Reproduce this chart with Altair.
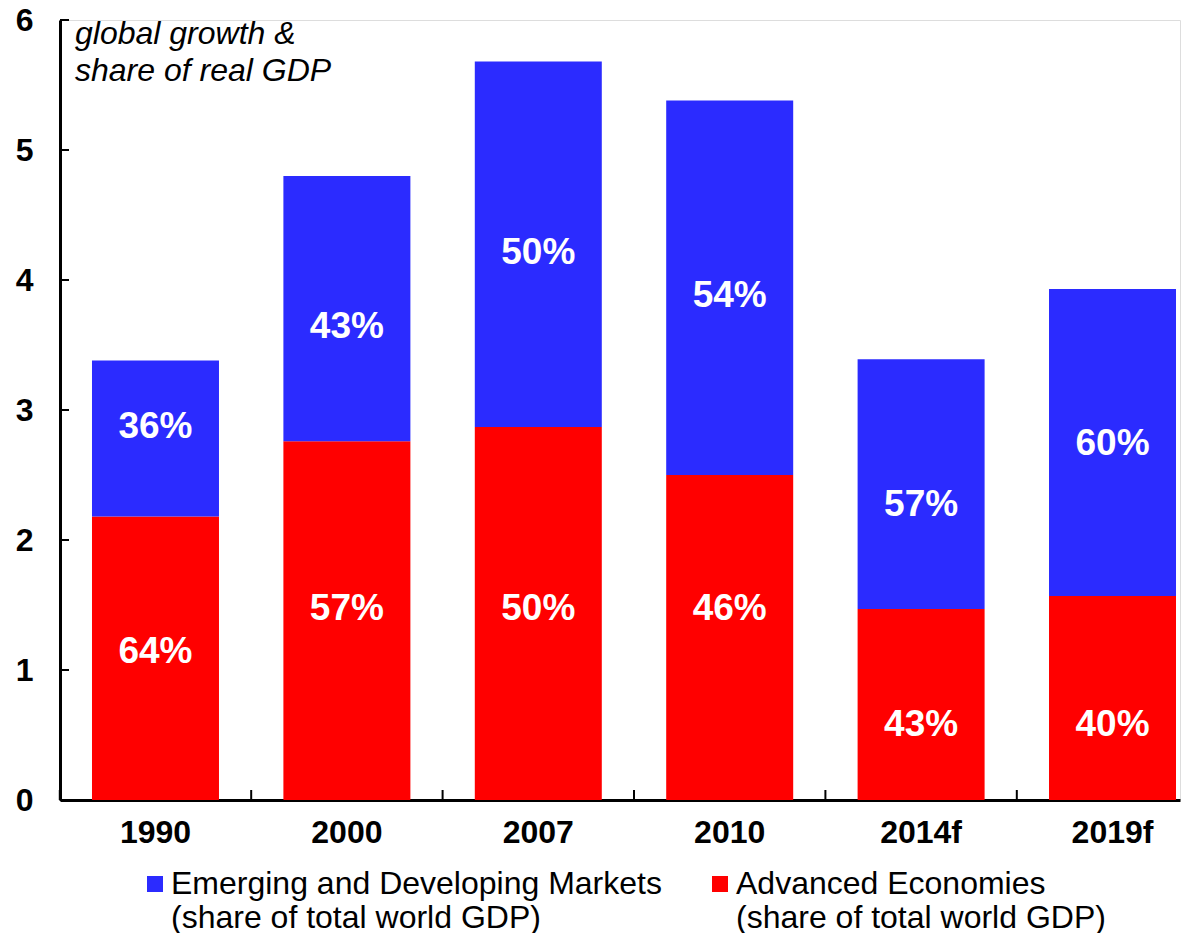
import altair as alt
import pandas as pd

# ---- data ----
years = ["1990", "2000", "2007", "2010", "2014f", "2019f"]
advanced = [2.18, 2.76, 2.87, 2.50, 1.47, 1.57]      # contribution to global growth
emerging = [1.20, 2.04, 2.81, 2.88, 1.92, 2.36]
adv_share = ["64%", "57%", "50%", "46%", "43%", "40%"]
em_share = ["36%", "43%", "50%", "54%", "57%", "60%"]
adv_label_at = [1.14, 1.47, 1.47, 1.47, 0.58, 0.58]  # where the share labels sit (data units)
em_label_at = [2.87, 3.64, 4.21, 3.88, 2.27, 2.74]
y_ticks = [0, 1, 2, 3, 4, 5, 6]
series = ["Emerging and Developing Markets|(share of total world GDP)",
          "Advanced Economies|(share of total world GDP)"]
colors = ["#2B2BFF", "#FF0000"]

rows = []
for i, yr in enumerate(years):
    rows.append(dict(year=yr, series=series[1], y0=0.0, y1=advanced[i],
                     share=adv_share[i], label_at=adv_label_at[i]))
    rows.append(dict(year=yr, series=series[0], y0=advanced[i], y1=advanced[i] + emerging[i],
                     share=em_share[i], label_at=em_label_at[i]))
df = pd.DataFrame(rows)

FONT = "Liberation Sans"
W, H = 1120, 780
n = len(years)
p_in, p_out, align = 0.3365, 0.094, 0.889
step = W / (n - p_in + 2 * p_out)
tick_off = p_in * step / 2

xscale = alt.Scale(domain=years, paddingInner=p_in, paddingOuter=p_out, align=align)
yscale = alt.Scale(domain=[0, 6], nice=False, zero=True)

bars = alt.Chart(df).mark_bar(strokeWidth=0).encode(
    x=alt.X("year:N", scale=xscale, sort=years,
            axis=alt.Axis(title=None, domain=True, domainWidth=3, domainColor="black",
                          ticks=False, grid=False, labelAngle=0, labelFont=FONT,
                          labelFontSize=32, labelFontWeight="bold", labelColor="black",
                          labelPadding=17)),
    y=alt.Y("y0:Q", scale=yscale,
            axis=alt.Axis(title=None, values=y_ticks, format="d", domain=True, domainWidth=3,
                          domainColor="black", ticks=False, grid=False, labelFont=FONT,
                          labelFontSize=32, labelFontWeight="bold", labelColor="black",
                          labelPadding=27)),
    y2="y1:Q",
    color=alt.Color("series:N", scale=alt.Scale(domain=series, range=colors),
                    legend=alt.Legend(orient="none", legendX=79, legendY=848,
                                      direction="horizontal", title=None,
                                      symbolType="square", symbolSize=256,
                                      symbolStrokeWidth=0, labelFont=FONT,
                                      labelFontSize=32, labelColor="black",
                                      labelLimit=1000, labelOffset=0, columnPadding=42,
                                      labelExpr="split(datum.label, '|')",
                                      labelBaseline="middle", padding=0)),
)

labels = alt.Chart(df).mark_text(color="white", fontWeight="bold", fontSize=37,
                                 font=FONT, baseline="middle").encode(
    x=alt.X("year:N", sort=years, title=None),
    y=alt.Y("label_at:Q", title=None),
    text="share:N",
)

ytick_rules = alt.Chart(pd.DataFrame({"v": y_ticks})).mark_rule(
    color="black", strokeWidth=2).encode(
    y=alt.Y("v:Q", title=None), x=alt.value(0), x2=alt.value(9))

xtick_rules = alt.Chart(pd.DataFrame({"year": years})).mark_rule(
    color="black", strokeWidth=2, xOffset=-tick_off).encode(
    x=alt.X("year:N", sort=years, bandPosition=0, title=None),
    y=alt.value(H - 10), y2=alt.value(H))

chart = alt.layer(bars, labels, ytick_rules, xtick_rules).properties(
    width=W, height=H,
    padding={"left": 52, "top": 12, "right": 2, "bottom": 133},
    autosize=alt.AutoSizeParams(type="none"),
    title=alt.TitleParams(text=["global growth &", "share of real GDP"], anchor="start",
                          frame="group", orient="top", font=FONT, fontSize=32,
                          fontStyle="italic", fontWeight="normal", color="black",
                          baseline="top", dx=15, dy=84, offset=0, lineHeight=37),
).configure_view(stroke=None).configure(font=FONT)

chart.save("out.html", embed_options={"renderer": "svg", "actions": False})
